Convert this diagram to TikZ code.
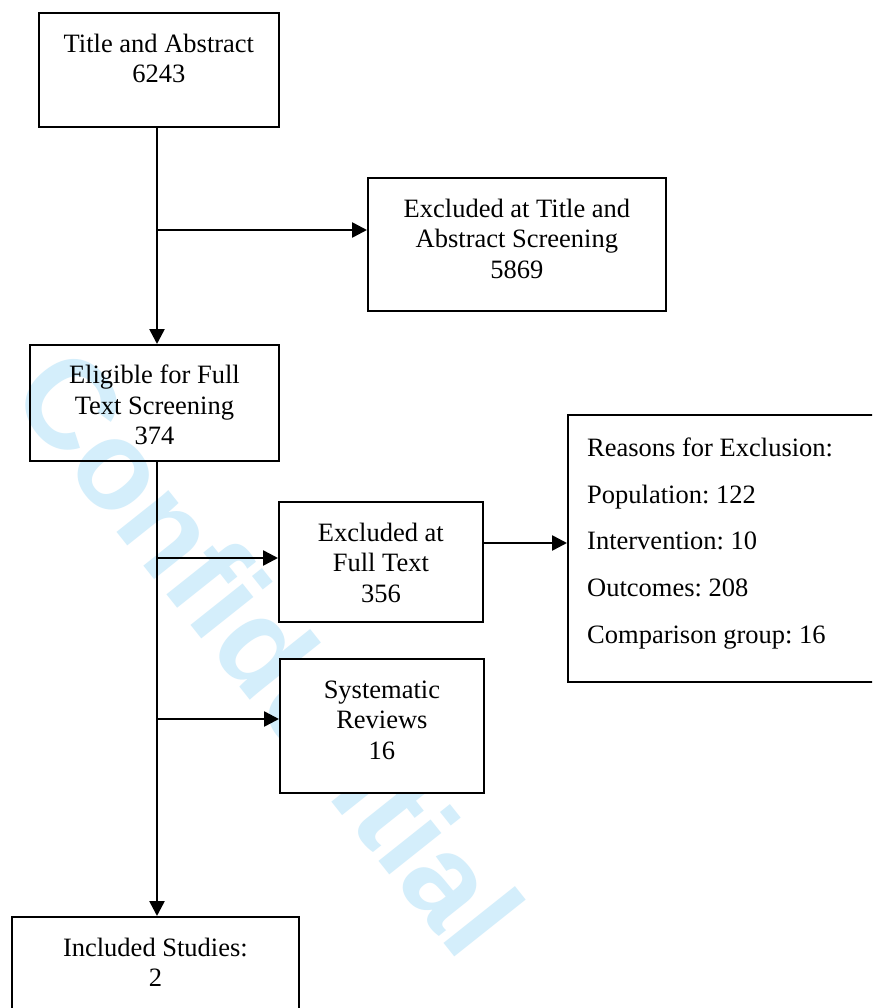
\documentclass[tikz,border=0pt]{standalone}
\usepackage{fontspec}
\setmainfont{Liberation Serif}
\newfontfamily\wmfont{Liberation Sans}
\usetikzlibrary{arrows.meta}
\definecolor{wmblue}{RGB}{212,238,251}
\frenchspacing
\begin{document}
\begin{tikzpicture}[x=1pt,y=-1pt,
  box/.style={draw, line width=1.8pt, inner sep=0pt, anchor=north west},
  wbox/.style={box, fill=white},
  conn/.style={line width=2.6pt, -{Triangle[length=15pt,width=15pt]}},
  lbl/.style={anchor=north, inner sep=0pt, font=\fontsize{26.5}{30.5}\selectfont},
  wmtext/.style={inner sep=0pt, text=wmblue, font=\wmfont\bfseries\fontsize{126}{126}\selectfont}]
\clip (0,0) rectangle (872,1008);
\fill[white] (0,0) rectangle (872,1008);
% watermark
\node[wmtext, rotate=-51.5] (wm) at (269,651) {Confidential};
% boxes
\node[wbox, minimum width=240pt, minimum height=114pt] (ta) at (38,12) {};
\node[wbox, minimum width=298pt, minimum height=133pt] (ex1) at (367,177) {};
\node[box, minimum width=249pt, minimum height=116pt] (elig) at (29,344) {};
\node[wbox, minimum width=204pt, minimum height=120pt] (ex2) at (278,501) {};
\node[wbox, minimum width=340pt, minimum height=267pt] (reasons) at (567,414) {};
\node[wbox, minimum width=204pt, minimum height=134pt] (sys) at (279,658) {};
\node[wbox, minimum width=287pt, minimum height=130pt] (inc) at (11,916) {};
% labels
\node[lbl, yshift=-18.6pt] (taT) at (ta.north) {\parbox[t]{230pt}{\centering\strut Title and Abstract\\6243}};
\node[lbl, yshift=-18.6pt] (ex1T) at (ex1.north) {\parbox[t]{290pt}{\centering\strut Excluded at Title and\\Abstract Screening\\5869}};
\node[lbl, yshift=-18.1pt] (eligT) at (elig.north) {\parbox[t]{240pt}{\centering\strut Eligible for Full\\Text Screening\\374}};
\node[lbl, yshift=-18.6pt] (ex2T) at (ex2.north) {\parbox[t]{200pt}{\centering\strut Excluded at\\Full Text\\356}};
\node[lbl, yshift=-18.6pt] (sysT) at (sys.north) {\parbox[t]{200pt}{\centering\strut Systematic\\Reviews\\16}};
\node[lbl, yshift=-18.6pt] (incT) at (inc.north) {\parbox[t]{280pt}{\centering\strut Included Studies:\\2}};
\node[anchor=north west, inner sep=0pt, font=\fontsize{26.5}{46.7}\selectfont] (reasonsT) at (587,423.5)
  {\parbox[t]{280pt}{\raggedright\strut Reasons for Exclusion:\\Population: 122\\Intervention: 10\\Outcomes: 208\\Comparison group: 16}};
% connectors
\coordinate (j1) at (157,230);
\coordinate (j2) at (157,558);
\coordinate (j3) at (157,719);
\coordinate (j4) at (0,543);
\draw[conn] (ta.south -| j1) -- (elig.north -| j1);
\draw[conn] (j1) -- (ex1.west |- j1);
\draw[conn] (elig.south -| j2) -- (inc.north -| j2);
\draw[conn] (j2) -- (ex2.west |- j2);
\draw[conn] (j3) -- (sys.west |- j3);
\draw[conn] (ex2.east |- j4) -- (reasons.west |- j4);
\end{tikzpicture}
\end{document}
